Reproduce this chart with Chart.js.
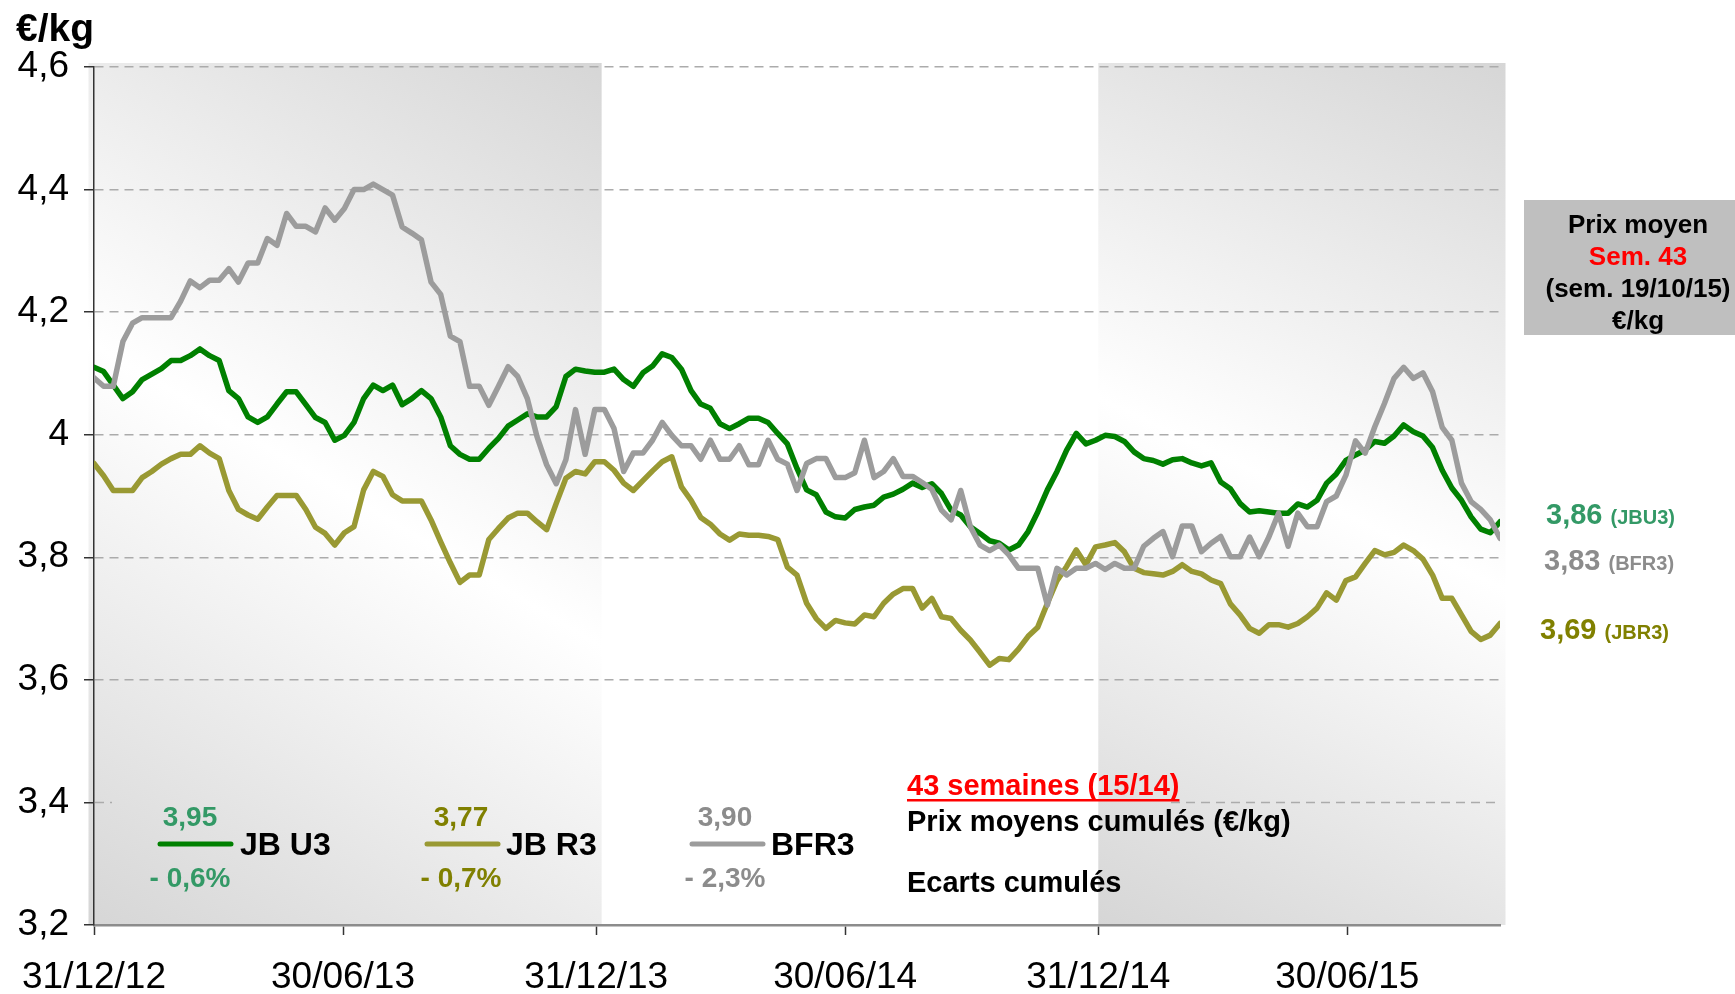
<!DOCTYPE html>
<html>
<head>
<meta charset="utf-8">
<script src="https://cdn.jsdelivr.net/npm/chart.js@4.4.1/dist/chart.umd.min.js"></script>
<style>
    body { margin: 0; background: #fff; }
    #wrap { width: 1735px; height: 994px; }
</style>
</head>
<body>
<div id="wrap"><canvas id="chart" width="1735" height="994"></canvas></div>
<script>
/* ---------- Data (weekly, from 31/12/12 to 19/10/15) ---------- */
const startDate = "31/12/12";
const seriesNames = ["JB U3", "JB R3", "BFR3"];
const seriesCodes = ["JBU3", "JBR3", "BFR3"];

const jbu3 = [
    4.110, 4.103, 4.081, 4.059, 4.070, 4.090, 4.099, 4.108, 4.121, 4.121, 4.129, 4.140, 4.129, 4.121, 4.072, 4.059, 4.029, 4.020, 4.029, 4.050, 4.070, 4.070, 4.049, 4.028, 4.020,
    3.991, 3.999, 4.020, 4.059, 4.081, 4.072, 4.081, 4.049, 4.059, 4.072, 4.059, 4.029, 3.982, 3.968, 3.960, 3.960, 3.978, 3.994, 4.014, 4.024, 4.034, 4.029, 4.029, 4.046, 4.095,
    4.107, 4.104, 4.102, 4.102, 4.107, 4.090, 4.079, 4.101, 4.112, 4.132, 4.126, 4.107, 4.072, 4.050, 4.043, 4.018, 4.010, 4.018, 4.027, 4.027, 4.020, 4.002, 3.985, 3.945, 3.910,
    3.902, 3.874, 3.866, 3.864, 3.878, 3.882, 3.885, 3.898, 3.903, 3.911, 3.921, 3.914, 3.920, 3.904, 3.877, 3.869, 3.850, 3.839, 3.827, 3.823, 3.812, 3.820, 3.842, 3.874, 3.910,
    3.940, 3.975, 4.002, 3.985, 3.991, 3.999, 3.997, 3.989, 3.972, 3.961, 3.958, 3.952, 3.959, 3.961, 3.954, 3.949, 3.954, 3.923, 3.912, 3.888, 3.874, 3.876, 3.874, 3.872, 3.872,
    3.887, 3.882, 3.893, 3.921, 3.936, 3.958, 3.967, 3.975, 3.989, 3.986, 3.998, 4.016, 4.005, 3.998, 3.979, 3.942, 3.913, 3.893, 3.866, 3.846, 3.840, 3.858
];

const jbr3 = [
    3.953, 3.933, 3.909, 3.909, 3.909, 3.930, 3.940, 3.952, 3.961, 3.968, 3.968, 3.982, 3.970, 3.961, 3.909, 3.878, 3.869, 3.862, 3.882, 3.901, 3.901, 3.901, 3.878, 3.849, 3.839,
    3.820, 3.840, 3.850, 3.910, 3.940, 3.932, 3.902, 3.892, 3.892, 3.892, 3.861, 3.825, 3.791, 3.759, 3.771, 3.771, 3.829, 3.847, 3.864, 3.872, 3.872, 3.858, 3.845, 3.888, 3.929,
    3.940, 3.936, 3.956, 3.956, 3.942, 3.921, 3.909, 3.925, 3.941, 3.956, 3.964, 3.915, 3.893, 3.865, 3.854, 3.838, 3.828, 3.838, 3.836, 3.836, 3.834, 3.829, 3.784, 3.771, 3.725,
    3.700, 3.684, 3.697, 3.693, 3.691, 3.706, 3.703, 3.725, 3.740, 3.749, 3.749, 3.717, 3.733, 3.703, 3.700, 3.681, 3.665, 3.645, 3.624, 3.635, 3.633, 3.650, 3.671, 3.686, 3.725,
    3.762, 3.785, 3.812, 3.788, 3.817, 3.820, 3.824, 3.809, 3.782, 3.775, 3.773, 3.771, 3.777, 3.788, 3.777, 3.773, 3.763, 3.757, 3.724, 3.706, 3.684, 3.676, 3.690, 3.690, 3.686,
    3.692, 3.703, 3.717, 3.742, 3.730, 3.762, 3.768, 3.790, 3.811, 3.804, 3.808, 3.820, 3.811, 3.797, 3.771, 3.733, 3.733, 3.706, 3.679, 3.666, 3.673, 3.692
];

const bfr3 = [
    4.093, 4.079, 4.079, 4.152, 4.182, 4.191, 4.191, 4.191, 4.191, 4.218, 4.251, 4.240, 4.252, 4.252, 4.271, 4.249, 4.280, 4.280, 4.320, 4.309, 4.361, 4.340, 4.340, 4.331, 4.370,
    4.350, 4.369, 4.400, 4.400, 4.409, 4.400, 4.391, 4.339, 4.329, 4.318, 4.249, 4.229, 4.161, 4.152, 4.079, 4.079, 4.048, 4.079, 4.111, 4.095, 4.059, 3.997, 3.951, 3.920, 3.959,
    4.041, 3.968, 4.041, 4.041, 4.010, 3.940, 3.970, 3.970, 3.991, 4.020, 3.999, 3.982, 3.982, 3.960, 3.991, 3.960, 3.960, 3.982, 3.951, 3.951, 3.991, 3.960, 3.952, 3.909, 3.953,
    3.961, 3.961, 3.930, 3.930, 3.938, 3.991, 3.930, 3.940, 3.961, 3.932, 3.932, 3.922, 3.911, 3.877, 3.861, 3.909, 3.850, 3.820, 3.811, 3.820, 3.804, 3.782, 3.782, 3.782, 3.722,
    3.782, 3.771, 3.782, 3.782, 3.790, 3.780, 3.790, 3.782, 3.782, 3.818, 3.831, 3.842, 3.801, 3.851, 3.851, 3.809, 3.823, 3.834, 3.801, 3.801, 3.833, 3.801, 3.833, 3.872, 3.818,
    3.872, 3.850, 3.850, 3.891, 3.900, 3.934, 3.990, 3.970, 4.013, 4.051, 4.092, 4.110, 4.092, 4.101, 4.070, 4.012, 3.991, 3.921, 3.891, 3.878, 3.861, 3.831
];

const tickDates = ["31/12/12", "30/06/13", "31/12/13", "30/06/14", "31/12/14", "30/06/15"];
const shadedPeriods = [["31/12/12", "31/12/13"], ["31/12/14", "19/10/15"]];

// cumulated averages (43 weeks) and gaps
const avgPrices = ["3,95", "3,77", "3,90"];
const avgGaps = ["- 0,6%", "- 0,7%", "- 2,3%"];

const lineColors = ["#008000", "#999933", "#9c9c9c"];
const textColors = ["#339966", "#808000", "#8c8c8c"];

/* ---------- helpers ---------- */
function toDay(s) {
    const [d, m, y] = s.split("/").map(Number);
    const [d0, m0, y0] = startDate.split("/").map(Number);
    return Math.round((Date.UTC(2000 + y, m - 1, d) - Date.UTC(2000 + y0, m0 - 1, d0)) / 864e5);
}
const toPoints = arr => arr.map((v, i) => ({ x: i * 7, y: v }));
const frNum = v => v.toFixed(2).replace(".", ",");
const FONT = "'Liberation Sans', Arial, sans-serif";

function txt(ctx, s, x, y, font, color, align) {
    ctx.font = font;
    ctx.fillStyle = color;
    ctx.textAlign = align || "left";
    ctx.textBaseline = "middle";
    ctx.fillText(s, x, y);
}

/* ---------- shaded years behind the plot ---------- */
const bandsPlugin = {
    id: "bands",
    beforeDraw(chart) {
        const { ctx, chartArea, scales } = chart;
        ctx.save();
        shadedPeriods.forEach((p, k) => {
            const x0 = scales.x.getPixelForValue(toDay(p[0]) - (k === 0 ? 4 : 0));
            const x1 = scales.x.getPixelForValue(toDay(p[1]) + 4);
            const y0 = chartArea.top - 4, y1 = chartArea.bottom;
            const g = ctx.createLinearGradient(x0, y1, x1, y0);
            g.addColorStop(0, "#d6d6d6");
            g.addColorStop(0.5, "#ffffff");
            g.addColorStop(1, "#d6d6d6");
            ctx.fillStyle = g;
            ctx.fillRect(x0, y0, x1 - x0, y1 - y0);
        });
        ctx.restore();
    }
};

/* ---------- texts, legend, side box ---------- */
const notesPlugin = {
    id: "notes",
    afterDraw(chart) {
        const { ctx, scales } = chart;
        ctx.save();

        // visible pieces of the 3,4 grid line (rest is hidden by the legend)
        const y34 = scales.y.getPixelForValue(3.4);
        ctx.strokeStyle = "#ababab";
        ctx.lineWidth = 1.5;
        ctx.setLineDash([9, 6]);
        ctx.beginPath();
        ctx.moveTo(95, y34); ctx.lineTo(112, y34);
        ctx.moveTo(1171, y34); ctx.lineTo(chart.chartArea.right, y34);
        ctx.stroke();
        ctx.setLineDash([]);

        // unit
        txt(ctx, "€/kg", 16, 30, "bold 39px " + FONT, "#000");

        // legend
        const legendX = [160, 427, 692];
        const nameX = [240, 506, 771];
        const valX = [190, 461, 725];
        seriesNames.forEach((name, i) => {
            ctx.strokeStyle = lineColors[i];
            ctx.lineWidth = 5;
            ctx.lineCap = "round";
            ctx.beginPath();
            ctx.moveTo(legendX[i], 844);
            ctx.lineTo(legendX[i] + 71, 844);
            ctx.stroke();
            txt(ctx, name, nameX[i], 846, "bold 32px " + FONT, "#000");
            txt(ctx, avgPrices[i], valX[i], 818, "bold 28px " + FONT, textColors[i], "center");
            txt(ctx, avgGaps[i], valX[i], 879, "bold 28px " + FONT, textColors[i], "center");
        });

        // cumulated block
        const head = "43 semaines (15/14)";
        txt(ctx, head, 907, 787, "bold 29px " + FONT, "#ff0000");
        const w = ctx.measureText(head).width;
        ctx.fillStyle = "#ff0000";
        ctx.fillRect(907, 799, w, 2.5);
        txt(ctx, "Prix moyens cumulés (€/kg)", 907, 823, "bold 29px " + FONT, "#000");
        txt(ctx, "Ecarts cumulés", 907, 884, "bold 29px " + FONT, "#000");

        // side box
        ctx.fillStyle = "#bfbfbf";
        ctx.fillRect(1524, 200, 211, 135);
        txt(ctx, "Prix moyen", 1638, 226, "bold 26px " + FONT, "#000", "center");
        txt(ctx, "Sem. 43", 1638, 258, "bold 26px " + FONT, "#ff0000", "center");
        txt(ctx, "(sem. 19/10/15)", 1638, 290, "bold 26px " + FONT, "#000", "center");
        txt(ctx, "€/kg", 1638, 322, "bold 26px " + FONT, "#000", "center");

        // last values
        const series = [jbu3, bfr3, jbr3];
        const order = [0, 2, 1];
        const sideX = [1546, 1544, 1540];
        const sideY = [516, 562, 631];
        series.forEach((arr, k) => {
            const i = order[k];
            const main = frNum(arr[arr.length - 1]);
            txt(ctx, main, sideX[k], sideY[k], "bold 29px " + FONT, textColors[i]);
            ctx.font = "bold 29px " + FONT;
            const mw = ctx.measureText(main + " ").width;
            txt(ctx, "(" + seriesCodes[i] + ")", sideX[k] + mw, sideY[k] + 2, "bold 20px " + FONT, textColors[i]);
        });

        ctx.restore();
    }
};

/* ---------- Chart ---------- */
const ctx = document.getElementById("chart").getContext("2d");
const lastDay = (jbu3.length - 1) * 7;

new Chart(ctx, {
    type: "line",
    data: {
        datasets: [
            { label: seriesNames[2], data: toPoints(bfr3), borderColor: lineColors[2], order: 1 },
            { label: seriesNames[0], data: toPoints(jbu3), borderColor: lineColors[0], order: 2 },
            { label: seriesNames[1], data: toPoints(jbr3), borderColor: lineColors[1], order: 3 }
        ]
    },
    options: {
        responsive: false,
        animation: false,
        layout: { padding: { left: 0, right: 235, top: 67, bottom: 0 } },
        elements: {
            line: { borderWidth: 5.5, tension: 0, borderJoinStyle: "round", borderCapStyle: "round" },
            point: { radius: 0 }
        },
        plugins: { legend: { display: false }, tooltip: { enabled: false } },
        scales: {
            x: {
                type: "linear",
                min: 0,
                max: lastDay,
                afterBuildTicks: s => { s.ticks = tickDates.map(d => ({ value: toDay(d) })); },
                afterFit: s => { s.height = 69; },
                ticks: {
                    autoSkip: false,
                    maxRotation: 0,
                    padding: 21,
                    color: "#000",
                    font: { family: FONT, size: 37 },
                    callback: (v, i) => tickDates[i]
                },
                grid: { drawOnChartArea: false, drawTicks: true, tickLength: 10, tickColor: "#333", tickWidth: 1.5 },
                border: { color: "#8c8c8c", width: 2.5 }
            },
            y: {
                min: 3.2,
                max: 4.6,
                afterFit: s => { s.width = 94; },
                ticks: {
                    stepSize: 0.2,
                    padding: 15,
                    color: "#000",
                    font: { family: FONT, size: 37 },
                    callback: v => String(Math.round(v * 10) / 10).replace(".", ",")
                },
                grid: {
                    color: c => (Math.abs(c.tick.value - 3.4) < 1e-6 ? "rgba(0,0,0,0)" : "#ababab"),
                    lineWidth: 1.5,
                    tickLength: 10,
                    tickColor: "#333",
                    tickWidth: 1.5,
                    tickBorderDash: []
                },
                border: { color: "#333", width: 1.5, dash: [9, 6] }
            }
        }
    },
    plugins: [bandsPlugin, notesPlugin]
});
</script>
</body>
</html>
